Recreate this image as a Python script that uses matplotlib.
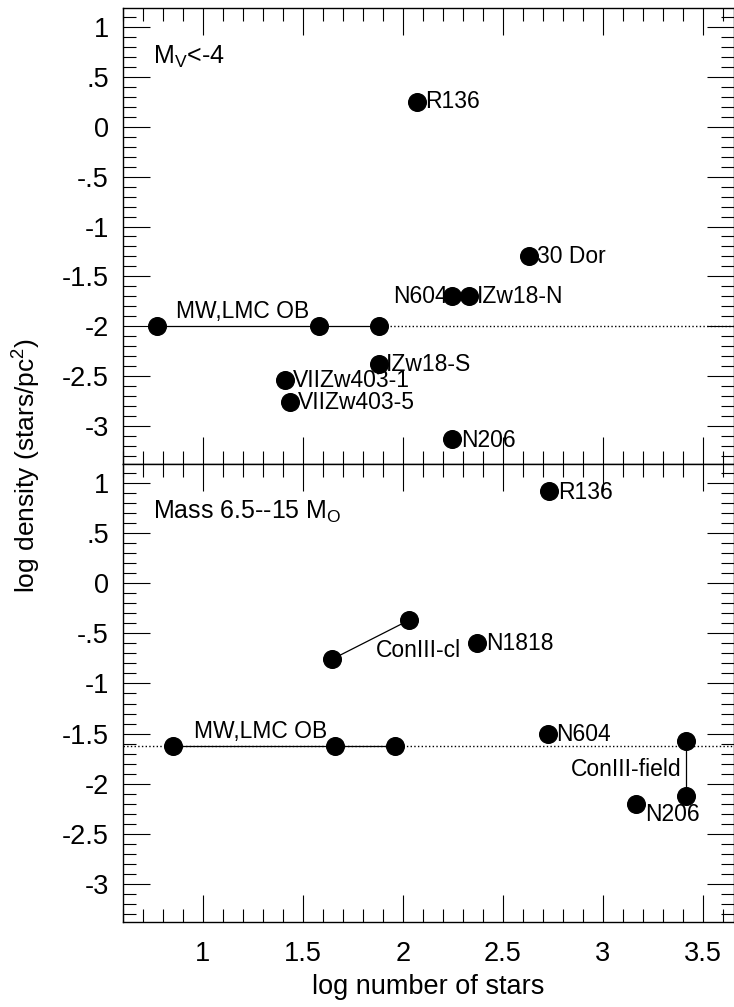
import matplotlib
matplotlib.use("Agg")
import matplotlib.pyplot as plt
from matplotlib.ticker import MultipleLocator, FixedLocator, FuncFormatter

plt.rcParams["font.family"] = ["Liberation Sans", "DejaVu Sans"]
plt.rcParams["mathtext.fontset"] = "custom"
plt.rcParams["mathtext.rm"] = "Liberation Sans"
plt.rcParams["mathtext.it"] = "Liberation Sans"

# upper panel: M_V < -4
top_mw_x = [0.77, 1.58, 1.88]
top_mw_y = [-2.0, -2.0, -2.0]
top_names = ["R136", "30 Dor", "N604", "IZw18-N", "IZw18-S",
             "VIIZw403-1", "VIIZw403-5", "N206"]
top_x = [2.07, 2.63, 2.245, 2.33, 1.88, 1.41, 1.435, 2.245]
top_y = [0.25, -1.30, -1.70, -1.70, -2.38, -2.54, -2.76, -3.13]

# lower panel: mass 6.5--15 Mo
bot_mw_x = [0.85, 1.66, 1.96]
bot_mw_y = [-1.62, -1.62, -1.62]
bot_names = ["R136", "N1818", "N604", "N206"]
bot_x = [2.73, 2.37, 2.725, 3.165]
bot_y = [0.92, -0.60, -1.50, -2.20]
cl_x = [1.645, 2.03]
cl_y = [-0.76, -0.37]
field_x = [3.415, 3.415]
field_y = [-1.57, -2.12]

yticks = [1, 0.5, 0, -0.5, -1, -1.5, -2, -2.5, -3]
xticks = [1, 1.5, 2, 2.5, 3, 3.5]
XMIN, XMAX = 0.6, 3.6565
YMIN, YMAX = -3.38, 1.19

# label offsets in points (dx, dy, ha)
top_place = {"R136": (6, 0, "left"), "30 Dor": (6, 0, "left"),
             "N604": (-3, 0, "right"), "IZw18-N": (6, 0, "left"),
             "IZw18-S": (5, 0, "left"), "VIIZw403-1": (6, 0, "left"),
             "VIIZw403-5": (6, 0, "left"), "N206": (7, -1, "left")}
bot_place = {"R136": (7, -1, "left"), "N1818": (7, 0, "left"),
             "N604": (6, -1, "left"), "N206": (7, -8, "left")}

LBL = 16.5
MS = 12.7


def fmt(v, pos):
    if abs(v) < 1e-9:
        return "0"
    if v == int(v):
        return "%d" % v
    s = ("%g" % v)
    return s.replace("0.", ".")


def style(ax, show_x):
    ax.set_xlim(XMIN, XMAX)
    ax.set_ylim(YMIN, YMAX)
    ax.xaxis.set_major_locator(FixedLocator(xticks))
    ax.xaxis.set_minor_locator(MultipleLocator(0.1))
    ax.yaxis.set_major_locator(FixedLocator(yticks))
    ax.yaxis.set_minor_locator(MultipleLocator(0.1))
    ax.yaxis.set_major_formatter(FuncFormatter(fmt))
    ax.xaxis.set_major_formatter(FuncFormatter(fmt))
    ax.tick_params(which="both", direction="in", top=True, right=True,
                   width=0.8, colors="black")
    ax.tick_params(which="major", length=19.5)
    ax.tick_params(which="minor", length=9.5)
    ax.tick_params(axis="y", labelsize=19.5, pad=10)
    ax.tick_params(axis="x", labelsize=19.5, pad=14, labelbottom=show_x)
    for sp in ax.spines.values():
        sp.set_linewidth(1.0)


def label(ax, name, x, y, place):
    dx, dy, ha = place
    ax.annotate(name, (x, y), xytext=(dx, dy), textcoords="offset points",
                ha=ha, va="center", fontsize=LBL)


fig = plt.figure(figsize=(7.34, 10.07), dpi=100)
ax1 = fig.add_axes([0.16717, 0.53923, 0.83283, 0.45283])
ax2 = fig.add_axes([0.16717, 0.08441, 0.83283, 0.45482])

# upper panel
ax1.plot(top_mw_x, top_mw_y, "-", color="black", lw=0.9)
ax1.plot([top_mw_x[-1], XMAX], [top_mw_y[-1], top_mw_y[-1]], ":",
         color="black", lw=1.0)
ax1.plot(top_mw_x, top_mw_y, "o", color="black", ms=MS, zorder=3)
ax1.plot(top_x, top_y, "o", color="black", ms=MS, zorder=3)
for n, x, y in zip(top_names, top_x, top_y):
    label(ax1, n, x, y, top_place[n])
ax1.annotate("MW,LMC OB", (top_mw_x[0], top_mw_y[0]), xytext=(14, 10.5),
             textcoords="offset points", ha="left", va="center", fontsize=LBL)
ax1.text(0.753, 0.70, r"M$_\mathrm{V}$<-4", fontsize=18, ha="left", va="center")
style(ax1, False)

# lower panel
ax2.axhline(bot_mw_y[0], ls=":", color="black", lw=1.0)
ax2.plot(bot_mw_x, bot_mw_y, "-", color="black", lw=0.9)
ax2.plot(bot_mw_x, bot_mw_y, "o", color="black", ms=MS, zorder=3)
ax2.plot(cl_x, cl_y, "-", color="black", lw=0.9)
ax2.plot(cl_x, cl_y, "o", color="black", ms=MS, zorder=3)
ax2.plot(field_x, field_y, "-", color="black", lw=0.9)
ax2.plot(field_x, field_y, "o", color="black", ms=MS, zorder=3)
ax2.plot(bot_x, bot_y, "o", color="black", ms=MS, zorder=3)
for n, x, y in zip(bot_names, bot_x, bot_y):
    label(ax2, n, x, y, bot_place[n])
ax2.annotate("MW,LMC OB", (bot_mw_x[0], bot_mw_y[0]), xytext=(15, 10.5),
             textcoords="offset points", ha="left", va="center", fontsize=LBL)
ax2.annotate("ConIII-cl", (cl_x[1], cl_y[1]), xytext=(7, -22),
             textcoords="offset points", ha="center", va="center", fontsize=LBL)
ax2.annotate("ConIII-field", (field_x[0], field_y[0]), xytext=(-3, -21),
             textcoords="offset points", ha="right", va="center", fontsize=LBL)
ax2.text(0.75, 0.714, r"Mass 6.5--15 M$_\mathrm{O}$", fontsize=18,
         ha="left", va="center")
style(ax2, True)

fig.text(27 / 734, 1 - 465 / 1007, r"log density (stars/pc$^2$)",
         rotation=90, ha="center", va="center", fontsize=19)
fig.text(428 / 734, 1 - 987 / 1007, "log number of stars",
         ha="center", va="center", fontsize=19.5)

fig.savefig("out.png", dpi=100)
